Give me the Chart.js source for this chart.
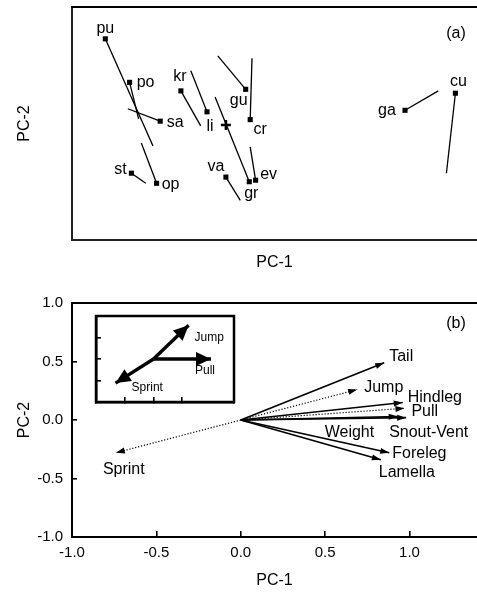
<!DOCTYPE html>
<html>
<head>
<meta charset="utf-8">
<script src="https://cdn.jsdelivr.net/npm/chart.js@4/dist/chart.umd.min.js"></script>
<style>
  body { margin: 0; background: #fff; }
  #wrap { position: relative; width: 477px; height: 593px; }
  #wrap canvas { position: absolute; }
</style>
</head>
<body>
<div id="wrap">
  <canvas id="chartA" width="477" height="280" style="left:0;top:0"></canvas>
  <canvas id="chartB" width="477" height="313" style="left:0;top:280px"></canvas>
  <canvas id="inset" width="142" height="90" style="left:94px;top:314px"></canvas>
</div>
<script>
// panel (a): species scores
var species = ['pu', 'po', 'sa', 'st', 'op', 'kr', 'li', 'gu', 'cr', 'va', 'gr', 'ev', 'ga', 'cu'];
var scorePc1 = [-1.13, -0.86, -0.52, -0.84, -0.56, -0.29, 0.00, 0.43, 0.48, 0.21, 0.47, 0.54, 2.20, 2.76];
var scorePc2 = [1.09, 0.53, 0.03, -0.64, -0.77, 0.42, 0.15, 0.44, 0.05, -0.69, -0.75, -0.73, 0.17, 0.39];
var shiftPc1 = [-0.60, -0.76, -0.88, -0.68, -0.73, -0.07, -0.18, 0.12, 0.50, 0.37, 0.09, 0.48, 2.57, 2.66];
var shiftPc2 = [-0.29, 0.06, 0.19, -0.77, -0.25, -0.03, 0.68, 0.87, 0.84, -0.99, 0.34, -0.30, 0.42, -0.64];
var centroid = [0.21, -0.02];

// panel (b): trait loadings
var traits = ['Tail', 'Jump', 'Hindleg', 'Pull', 'Snout-Vent', 'Weight', 'Foreleg', 'Lamella', 'Sprint'];
var loadPc1 = [0.85, 0.69, 0.96, 0.97, 0.98, 0.93, 0.88, 0.83, -0.74];
var loadPc2 = [0.49, 0.26, 0.15, 0.10, 0.02, 0.03, -0.28, -0.34, -0.28];
var axisTicks = [-1.0, -0.5, 0.0, 0.5, 1.0];

// inset vectors
var insetTraits = ['Jump', 'Pull', 'Sprint'];
var insetPc1 = [1.22, 2.0, -1.32];
var insetPc2 = [1.57, 0.0, -1.12];

// styling only
var dottedTraits = ['Jump', 'Pull', 'Sprint'];
var speciesLabelOffset = [[0, -10], [16, 0], [15, 1], [-11, -4], [14, 1], [-1, -14], [3, 15], [-7, 11], [10, 10], [-10, -10], [2, 12], [13, -6], [-18, 0], [3, -12]];
var traitLabelOffset = [[5, -6], [7, -2], [5, -5], [7, 3], [-17, 15], [-73, 16], [3, 1], [-2, 13], [-13, 17]];
var insetLabelOffset = [[6, 12], [-16, 12], [16, 5]];

var FONT = '"Liberation Sans", Arial, sans-serif';

var topLine = {
    id: 'topLine',
    afterDraw: function (chart) {
        var a = chart.chartArea, ctx = chart.ctx;
        ctx.save();
        ctx.strokeStyle = '#000';
        ctx.lineWidth = 2;
        ctx.beginPath();
        ctx.moveTo(a.left - 1, a.top);
        ctx.lineTo(a.right, a.top);
        ctx.stroke();
        ctx.restore();
    }
};

var textLabels = {
    id: 'textLabels',
    afterDatasetsDraw: function (chart, args, opts) {
        if (!opts.labels) return;
        var ctx = chart.ctx, xs = chart.scales.x, ys = chart.scales.y;
        ctx.save();
        ctx.font = opts.font;
        ctx.fillStyle = '#000';
        ctx.textAlign = opts.align;
        ctx.textBaseline = 'middle';
        opts.labels.forEach(function (t, i) {
            ctx.fillText(t, xs.getPixelForValue(opts.xs[i]) + opts.offsets[i][0],
                ys.getPixelForValue(opts.ys[i]) + opts.offsets[i][1]);
        });
        if (opts.tag) {
            ctx.textAlign = 'center';
            ctx.fillText(opts.tag, chart.chartArea.right - 21, chart.chartArea.top + opts.tagDown);
        }
        ctx.restore();
    }
};

var arrowHeads = {
    id: 'arrowHeads',
    afterDatasetsDraw: function (chart, args, opts) {
        var ctx = chart.ctx;
        chart.data.datasets.forEach(function (ds, i) {
            if (!ds.arrow) return;
            var pts = chart.getDatasetMeta(i).data;
            var p0 = pts[0], p1 = pts[pts.length - 1];
            var ang = Math.atan2(p1.y - p0.y, p1.x - p0.x);
            ctx.save();
            ctx.translate(p1.x, p1.y);
            ctx.rotate(ang);
            ctx.fillStyle = '#000';
            ctx.beginPath();
            ctx.moveTo(0, 0);
            ctx.lineTo(-opts.length, opts.width / 2);
            ctx.lineTo(-opts.length, -opts.width / 2);
            ctx.closePath();
            ctx.fill();
            ctx.restore();
        });
    }
};

// ---------- panel (a)
var segments = species.map(function (s, i) {
    return {
        data: [{x: scorePc1[i], y: scorePc2[i]}, {x: shiftPc1[i], y: shiftPc2[i]}],
        showLine: true, borderColor: '#000', borderWidth: 1.3, pointRadius: 0
    };
});
segments.push({
    data: species.map(function (s, i) { return {x: scorePc1[i], y: scorePc2[i]}; }),
    pointStyle: 'rect', pointRadius: 3.6, backgroundColor: '#000', borderWidth: 0
});
segments.push({
    data: [{x: centroid[0], y: centroid[1]}],
    pointStyle: 'cross', pointRadius: 5, borderColor: '#000', borderWidth: 2.6
});

function plainAxis(min, max, title, pad, fitSize, horizontal) {
    return {
        type: 'linear', min: min, max: max,
        ticks: {display: false},
        grid: {display: false},
        border: {color: '#222', width: 2},
        title: {display: true, text: title, color: '#000', font: {family: FONT, size: 16}, padding: pad},
        afterFit: function (s) { if (horizontal) s.height = fitSize; else s.width = fitSize; }
    };
}

new Chart(document.getElementById('chartA'), {
    type: 'scatter',
    data: {datasets: segments},
    options: {
        responsive: false, animation: false, devicePixelRatio: 1,
        layout: {autoPadding: false, padding: {top: 7, right: 0, left: 0, bottom: 0}},
        plugins: {
            legend: {display: false}, tooltip: {enabled: false},
            textLabels: {labels: species, xs: scorePc1, ys: scorePc2, offsets: speciesLabelOffset,
                font: '16px ' + FONT, align: 'center', tag: '(a)', tagDown: 27}
        },
        scales: {
            x: plainAxis(-1.5, 3.0, 'PC-1', {top: 0, bottom: 8}, 40, true),
            y: plainAxis(-1.5, 1.5, 'PC-2', {top: 15, bottom: 0}, 72, false)
        }
    },
    plugins: [topLine, textLabels]
});

// ---------- panel (b)
var vectors = traits.map(function (t, i) {
    var dotted = dottedTraits.indexOf(t) >= 0;
    return {
        data: [{x: 0, y: 0}, {x: loadPc1[i], y: loadPc2[i]}],
        showLine: true, borderColor: '#000', borderWidth: dotted ? 1.2 : 1.6,
        borderDash: dotted ? [1.2, 1.8] : [], pointRadius: 0, arrow: true
    };
});

function tickAxis(min, max, title, pad, fitSize, horizontal) {
    return {
        type: 'linear', min: min, max: max,
        afterBuildTicks: function (s) { s.ticks = axisTicks.map(function (v) { return {value: v}; }); },
        ticks: {color: '#000', font: {family: FONT, size: 15}, padding: horizontal ? 13 : 14,
            callback: function (v) { return v.toFixed(1); }},
        grid: {drawOnChartArea: false, tickLength: horizontal ? -6 : -5, color: '#000', lineWidth: 1.6},
        border: {color: '#000', width: 2},
        title: {display: true, text: title, color: '#000', font: {family: FONT, size: 16}, padding: pad},
        afterFit: function (s) { if (horizontal) s.height = fitSize; else s.width = fitSize; }
    };
}

new Chart(document.getElementById('chartB'), {
    type: 'scatter',
    data: {datasets: vectors},
    options: {
        responsive: false, animation: false, devicePixelRatio: 1,
        layout: {autoPadding: false, padding: {top: 23, right: 0, left: 0, bottom: 0}},
        plugins: {
            legend: {display: false}, tooltip: {enabled: false},
            arrowHeads: {length: 9, width: 6},
            textLabels: {labels: traits, xs: loadPc1, ys: loadPc2, offsets: traitLabelOffset,
                font: '16px ' + FONT, align: 'left', tag: '(b)', tagDown: 21}
        },
        scales: {
            x: tickAxis(-1.0, 1.4, 'PC-1', {top: 0, bottom: 3}, 56, true),
            y: tickAxis(-1.0, 1.0, 'PC-2', {top: 15, bottom: 0}, 72, false)
        }
    },
    plugins: [topLine, arrowHeads, textLabels]
});

// ---------- inset
var insetVectors = insetTraits.map(function (t, i) {
    return {
        data: [{x: 0, y: 0}, {x: insetPc1[i], y: insetPc2[i]}],
        showLine: true, borderColor: '#000', borderWidth: 3.4, pointRadius: 0, arrow: true
    };
});

var insetFrame = {
    id: 'insetFrame',
    afterDraw: function (chart) {
        var a = chart.chartArea, ctx = chart.ctx;
        ctx.save();
        ctx.strokeStyle = '#000';
        ctx.lineWidth = 2.5;
        ctx.strokeRect(a.left, a.top, a.right - a.left, a.bottom - a.top);
        ctx.restore();
    }
};

function insetAxis(min, max, horizontal) {
    return {
        type: 'linear', min: min, max: max,
        ticks: {display: false, stepSize: 1},
        grid: {drawOnChartArea: false, tickLength: -5, color: '#000', lineWidth: 1.6},
        border: {color: '#000', width: 2.5},
        afterFit: function (s) { if (horizontal) s.height = 0; else s.width = 0; }
    };
}

new Chart(document.getElementById('inset'), {
    type: 'scatter',
    data: {datasets: insetVectors},
    options: {
        responsive: false, animation: false, devicePixelRatio: 1,
        layout: {autoPadding: false, padding: 2},
        plugins: {
            legend: {display: false}, tooltip: {enabled: false},
            arrowHeads: {length: 15, width: 14},
            textLabels: {labels: insetTraits, xs: insetPc1, ys: insetPc2, offsets: insetLabelOffset,
                font: '12px ' + FONT, align: 'left'}
        },
        scales: {
            x: insetAxis(-2, 2.8, true),
            y: insetAxis(-2, 2, false)
        }
    },
    plugins: [arrowHeads, textLabels, insetFrame]
});
</script>
</body>
</html>
